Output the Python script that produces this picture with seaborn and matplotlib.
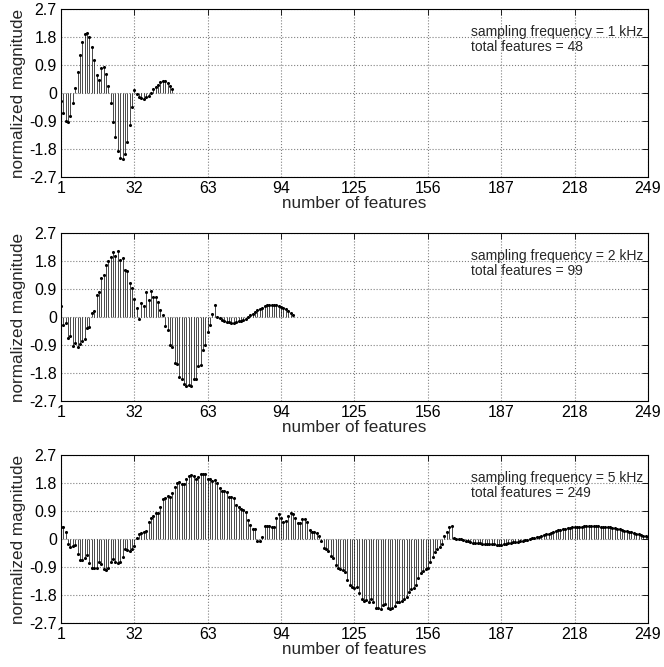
import numpy as np
import matplotlib
matplotlib.use('Agg')
import matplotlib.pyplot as plt
import seaborn as sns

# values (1 kHz, 2 kHz, 5 kHz)
mag_1k = [-0.24, -0.62, -0.88, -0.93, -0.73, -0.32, 0.16, 0.70, 1.23, 1.66,
          1.91, 1.95, 1.80, 1.50, 1.07, 0.59, 0.43, 0.80, 0.86, 0.62,
          0.24, -0.30, -0.91, -1.41, -1.84, -2.09, -2.11, -1.95, -1.55, -1.02,
          -0.45, 0.11, -0.02, -0.11, -0.14, -0.18, -0.13, -0.09, 0.00, 0.13,
          0.21, 0.28, 0.35, 0.41, 0.39, 0.32, 0.24, 0.15]

mag_2k = [0.36, -0.25, -0.18, -0.67, -0.60, -0.92, -0.83, -0.98, -0.87, -0.76,
          -0.70, -0.35, -0.33, 0.14, 0.20, 0.70, 0.79, 1.26, 1.36, 1.68,
          1.81, 1.93, 2.09, 1.96, 2.11, 1.82, 1.90, 1.52, 1.49, 1.09,
          0.92, 0.57, 0.30, -0.05, 0.44, 0.34, 0.81, 0.55, 0.85, 0.65,
          0.63, 0.47, 0.23, 0.05, -0.29, -0.43, -0.91, -0.98, -1.49, -1.51,
          -1.92, -1.98, -2.14, -2.22, -2.19, -2.22, -2.00, -2.00, -1.59, -1.54,
          -1.05, -0.91, -0.48, -0.26, 0.10, 0.39, 0.01, -0.04, -0.10, -0.14,
          -0.16, -0.17, -0.18, -0.20, -0.17, -0.14, -0.12, -0.11, -0.05, 0.00,
          0.05, 0.11, 0.15, 0.21, 0.26, 0.30, 0.35, 0.38, 0.39, 0.40,
          0.39, 0.38, 0.35, 0.33, 0.29, 0.25, 0.20, 0.14, 0.07]

mag_5k = [0.41, 0.41, 0.22, -0.16, -0.24, -0.20, -0.18, -0.48, -0.66, -0.66,
          -0.60, -0.52, -0.75, -0.93, -0.93, -0.91, -0.72, -0.79, -0.97, -1.00,
          -0.93, -0.74, -0.64, -0.74, -0.77, -0.74, -0.56, -0.32, -0.34, -0.37,
          -0.32, -0.20, 0.05, 0.16, 0.21, 0.22, 0.27, 0.55, 0.70, 0.76,
          0.86, 0.84, 1.03, 1.30, 1.32, 1.40, 1.35, 1.48, 1.69, 1.80,
          1.85, 1.77, 1.77, 1.94, 2.05, 2.07, 2.05, 1.93, 1.99, 2.09,
          2.09, 2.09, 1.94, 1.93, 1.87, 1.90, 1.80, 1.66, 1.55, 1.56,
          1.53, 1.37, 1.35, 1.34, 1.10, 1.05, 0.97, 0.93, 0.87, 0.62,
          0.46, 0.33, 0.33, -0.07, -0.07, 0.09, 0.44, 0.44, 0.43, 0.41,
          0.39, 0.70, 0.81, 0.70, 0.55, 0.60, 0.75, 0.86, 0.81, 0.67,
          0.52, 0.52, 0.64, 0.64, 0.55, 0.30, 0.22, 0.25, 0.19, 0.12,
          -0.05, -0.29, -0.31, -0.37, -0.54, -0.59, -0.82, -0.93, -0.95, -0.99,
          -1.06, -1.31, -1.47, -1.52, -1.55, -1.52, -1.74, -1.92, -1.98, -1.95,
          -2.00, -1.92, -2.00, -2.20, -2.22, -2.24, -2.11, -2.07, -2.20, -2.24,
          -2.20, -2.13, -2.00, -2.00, -1.98, -1.93, -1.84, -1.68, -1.60, -1.55,
          -1.47, -1.25, -1.07, -1.02, -0.95, -0.91, -0.74, -0.56, -0.42, -0.31,
          -0.24, -0.16, 0.12, 0.25, 0.41, 0.43, 0.03, 0.02, 0.01, 0.00,
          -0.02, -0.04, -0.06, -0.09, -0.11, -0.12, -0.13, -0.13, -0.14, -0.14,
          -0.14, -0.15, -0.15, -0.16, -0.17, -0.18, -0.17, -0.16, -0.15, -0.13,
          -0.12, -0.10, -0.09, -0.08, -0.06, -0.05, -0.03, -0.01, 0.01, 0.03,
          0.05, 0.07, 0.09, 0.11, 0.13, 0.16, 0.18, 0.21, 0.24, 0.27,
          0.29, 0.30, 0.32, 0.33, 0.35, 0.36, 0.38, 0.39, 0.40, 0.40,
          0.41, 0.42, 0.42, 0.43, 0.43, 0.43, 0.42, 0.42, 0.41, 0.40,
          0.40, 0.39, 0.38, 0.36, 0.35, 0.33, 0.32, 0.30, 0.28, 0.27,
          0.25, 0.23, 0.21, 0.18, 0.16, 0.14, 0.12, 0.10, 0.08]

freq_labels = ['1 kHz', '2 kHz', '5 kHz']
x_ticks = [1, 32, 63, 94, 125, 156, 187, 218, 249]
y_ticks = [-2.7, -1.8, -0.9, 0, 0.9, 1.8, 2.7]
y_ticklabels = ['-2.7', '-1.8', '-0.9', '0', '0.9', '1.8', '2.7']

sns.set_style('white')
plt.rcParams['font.family'] = ['Liberation Sans', 'DejaVu Sans']
plt.rcParams['axes.unicode_minus'] = False

fig = plt.figure(figsize=(6.64, 6.67), dpi=100)
W, H = 664, 667
# axes boxes in pixels: (top, bottom)
boxes = [(9.3, 177.3), (233.0, 401.0), (455.3, 623.3)]
series = [mag_1k, mag_2k, mag_5k]

for (top, bot), vals, fl in zip(boxes, series, freq_labels):
    ax = fig.add_axes([61 / W, (H - bot) / H, 587 / W, (bot - top) / H])
    idx = np.arange(1, len(vals) + 1)
    v = np.array(vals)
    ax.vlines(idx, 0, v, colors='k', linewidth=0.5, zorder=2)
    sns.scatterplot(x=idx, y=v, ax=ax, marker='o', s=5, color='k',
                    linewidth=0, legend=False, zorder=3)
    ax.set_xlim(1, 249)
    ax.set_ylim(-2.7, 2.7)
    ax.set_xticks(x_ticks)
    ax.set_xticklabels([str(t) for t in x_ticks])
    ax.set_yticks(y_ticks)
    ax.set_yticklabels(y_ticklabels)
    ax.grid(True, linestyle=':', color='#808080', linewidth=0.8)
    ax.set_axisbelow(True)
    for s in ax.spines.values():
        s.set_color('k')
        s.set_linewidth(0.8)
    ax.tick_params(direction='in', length=4, width=0.6, top=True, right=True,
                   labelsize=11.5, pad=3, colors='k')
    ax.set_xlabel('number of features', fontsize=12.3, labelpad=0)
    ax.set_ylabel('normalized magnitude', fontsize=12.3, labelpad=2)
    ax.text(0.698, 0.905, f'sampling frequency = {fl}\ntotal features = {len(vals)}',
            transform=ax.transAxes, ha='left', va='top', fontsize=10,
            linespacing=1.05)

fig.savefig('out.png', dpi=100)
plt.close(fig)
